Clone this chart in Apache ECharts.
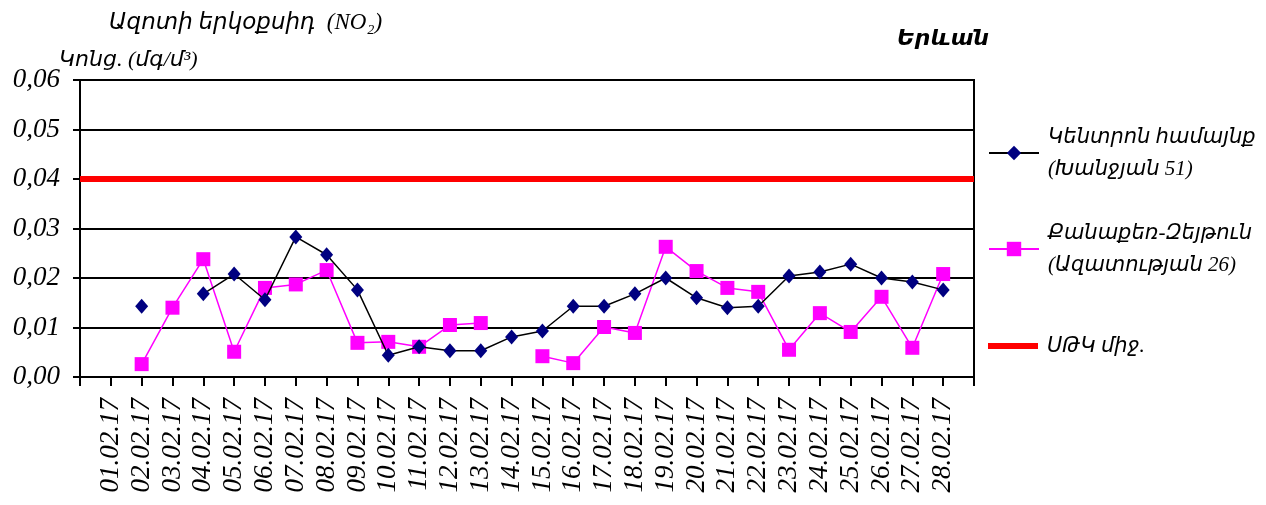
<!DOCTYPE html>
<html>
<head>
<meta charset="utf-8">
<script src="https://cdn.jsdelivr.net/npm/echarts@6/dist/echarts.min.js"></script>
<style>
    html, body { margin: 0; padding: 0; background: #fff; }
    #chart { width: 1266px; height: 505px; }
</style>
</head>
<body>
<div id="chart"></div>
<script>
// օրերը
const dates = [
    '01.02.17', '02.02.17', '03.02.17', '04.02.17', '05.02.17', '06.02.17', '07.02.17',
    '08.02.17', '09.02.17', '10.02.17', '11.02.17', '12.02.17', '13.02.17', '14.02.17',
    '15.02.17', '16.02.17', '17.02.17', '18.02.17', '19.02.17', '20.02.17', '21.02.17',
    '22.02.17', '23.02.17', '24.02.17', '25.02.17', '26.02.17', '27.02.17', '28.02.17'
]
// Կենտրոն համայնք (Խանջյան 51)
const centerValues = [
    null, 0.0143, null, 0.0168, 0.0208, 0.0156, 0.0283,
    0.0247, 0.0176, 0.0044, 0.0061, 0.0053, 0.0053, 0.0081,
    0.0093, 0.0143, 0.0143, 0.0168, 0.0200, 0.0160, 0.0140,
    0.0143, 0.0204, 0.0212, 0.0228, 0.0200, 0.0192, 0.0176
]
// Քանաքեռ-Զեյթուն (Ազատության 26)
const kanakerValues = [
    null, 0.0026, 0.0140, 0.0238, 0.0051, 0.0180, 0.0187,
    0.0216, 0.0069, 0.0071, 0.0061, 0.0105, 0.0109, null,
    0.0042, 0.0028, 0.0101, 0.0089, 0.0263, 0.0214, 0.0180,
    0.0172, 0.0055, 0.0129, 0.0091, 0.0162, 0.0059, 0.0208
]
// ՍԹԿ միջ.
const limitValue = 0.04
const yTicks = [ 0, 0.01, 0.02, 0.03, 0.04, 0.05, 0.06 ]

const seriesNames = [
    'Կենտրոն համայնք\n(Խանջյան 51)',
    'Քանաքեռ-Զեյթուն\n(Ազատության 26)',
    'ՍԹԿ միջ.'
]

// հայերենը՝ DejaVu Sans Oblique-ով
const FONT = "'Liberation Serif', 'DejaVu Sans', serif"

const toPoints = arr => arr.map( ( v, i ) => [ i, v == null ? '-' : v ] )

const legendText = ( lines ) => ( {
    fontFamily: FONT,
    fontStyle: 'italic',
    fontSize: 21,
    color: '#000',
    lineHeight: 32,
    padding: [ ( lines - 1 ) * 32, 0, 0, 4 ]
} )

const legendBase = {
    orient: 'vertical',
    left: 988,
    padding: 0,
    itemWidth: 50,
    itemHeight: 18,
    selectedMode: false
}

const chart = echarts.init( document.getElementById( 'chart' ) )

const option = {
    backgroundColor: '#fff',
    animation: false,
    title: [ {
        text: 'Ազոտի երկօքսիդ  (NO₂)',
        left: 104,
        top: 6,
        textStyle: { fontFamily: FONT, fontStyle: 'italic', fontWeight: 'normal', fontSize: 23, color: '#000' }
    }, {
        text: 'Կոնց. (մգ/մ³)',
        left: 54,
        top: 44,
        textStyle: { fontFamily: FONT, fontStyle: 'italic', fontWeight: 'normal', fontSize: 22, color: '#000' }
    }, {
        text: 'Երևան',
        left: 892,
        top: 23,
        textStyle: { fontFamily: FONT, fontStyle: 'italic', fontWeight: 'bold', fontSize: 22, color: '#000' }
    } ],
    legend: [
        { ...legendBase, top: 105, data: [ seriesNames[ 0 ] ], textStyle: legendText( 2 ) },
        { ...legendBase, top: 201, data: [ seriesNames[ 1 ] ], textStyle: legendText( 2 ) },
        {
            ...legendBase, top: 330, itemHeight: 6,
            data: [ { name: seriesNames[ 2 ], icon: 'rect' } ],
            textStyle: { ...legendText( 1 ), padding: [ 0, 0, 0, 4 ] }
        }
    ],
    grid: {
        left: 80,
        right: 292,
        top: 80,
        bottom: 128,
        show: true,
        borderColor: '#000',
        borderWidth: 2,
        containLabel: false
    },
    xAxis: {
        type: 'value',
        min: -1,
        max: 28,
        interval: 1,
        axisLine: { onZero: false, lineStyle: { color: '#000', width: 2 } },
        axisTick: { length: 9, lineStyle: { color: '#000', width: 2 } },
        splitLine: { show: false },
        axisLabel: {
            rotate: 90,
            margin: 21,
            fontFamily: FONT,
            fontStyle: 'italic',
            fontSize: 27,
            color: '#000',
            showMinLabel: true,
            showMaxLabel: true,
            formatter: v => ( v >= 0 && v < dates.length ) ? dates[ v ] : ''
        }
    },
    yAxis: {
        type: 'value',
        min: yTicks[ 0 ],
        max: yTicks[ yTicks.length - 1 ],
        interval: 0.01,
        axisLine: { show: true, onZero: false, lineStyle: { color: '#000', width: 2 } },
        axisTick: { show: true, length: 7, lineStyle: { color: '#000', width: 2 } },
        splitLine: { lineStyle: { color: '#000', width: 2 } },
        axisLabel: {
            margin: 20,
            fontFamily: FONT,
            fontStyle: 'italic',
            fontSize: 27,
            color: '#000',
            formatter: v => v.toFixed( 2 ).replace( '.', ',' )
        }
    },
    series: [ {
        name: seriesNames[ 0 ],
        type: 'line',
        data: toPoints( centerValues ),
        symbol: 'diamond',
        symbolSize: [ 13, 15 ],
        showSymbol: true,
        connectNulls: false,
        lineStyle: { color: '#000', width: 1.5 },
        itemStyle: { color: '#000080' },
        z: 4
    }, {
        name: seriesNames[ 1 ],
        type: 'line',
        data: toPoints( kanakerValues ),
        symbol: 'rect',
        symbolSize: 14,
        showSymbol: true,
        connectNulls: false,
        lineStyle: { color: '#ff00ff', width: 1.5 },
        itemStyle: { color: '#ff00ff' },
        z: 3
    }, {
        name: seriesNames[ 2 ],
        type: 'line',
        data: [ [ -1, limitValue ], [ 28, limitValue ] ],
        symbol: 'none',
        lineStyle: { color: '#ff0000', width: 6 },
        itemStyle: { color: '#ff0000' },
        z: 2
    } ]
}

chart.setOption( option )
</script>
</body>
</html>
